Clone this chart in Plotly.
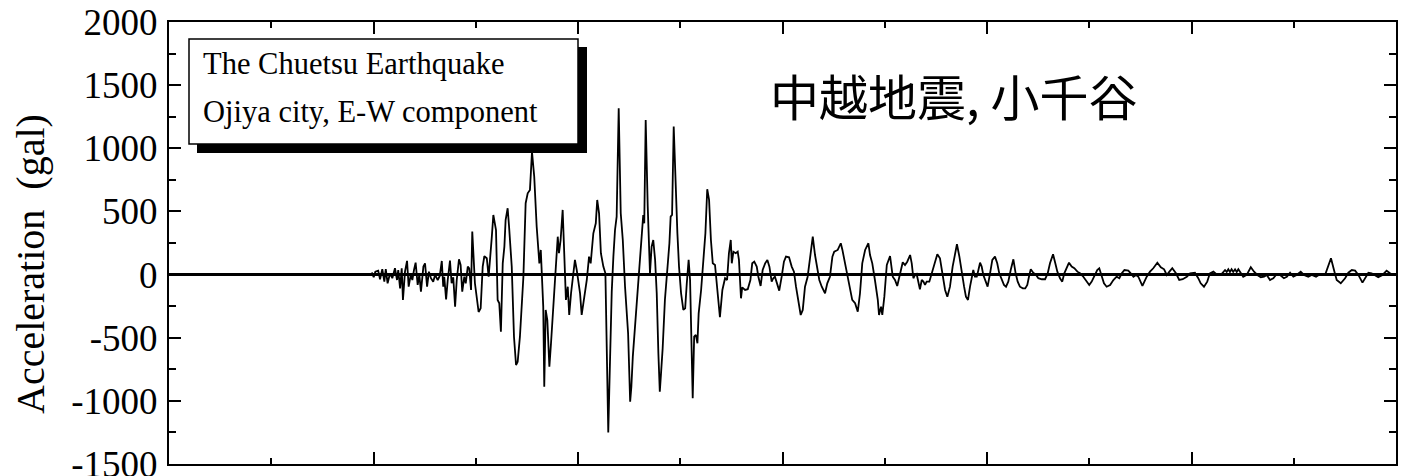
import plotly.graph_objects as go

# Time (s) and acceleration (gal)
time_s = [0.0, 9.83, 9.93, 10.01, 10.09, 10.23, 10.32, 10.43, 10.53, 10.60, 10.69, 10.81, 10.92, 11.05, 11.15, 11.21,
          11.30, 11.38, 11.44, 11.54, 11.64, 11.72, 11.82, 11.90, 11.98, 12.06, 12.16, 12.24, 12.32, 12.44, 12.52,
          12.62, 12.71, 12.81, 12.92, 13.01, 13.14, 13.24, 13.34, 13.41, 13.46, 13.55, 13.63, 13.74, 13.82, 13.90,
          13.99, 14.07, 14.18, 14.26, 14.34, 14.44, 14.51, 14.61, 14.68, 14.77, 14.83, 14.96, 15.14, 15.24, 15.34,
          15.42, 15.54, 15.63, 15.78, 15.86, 15.99, 16.07, 16.15, 16.23, 16.32, 16.40, 16.46, 16.56, 16.63, 16.76,
          16.87, 16.97, 17.05, 17.16, 17.33, 17.44, 17.54, 17.65, 17.75, 17.86, 17.98, 18.06, 18.11, 18.18, 18.23,
          18.30, 18.35, 18.42, 18.50, 18.60, 18.68, 18.79, 18.91, 19.01, 19.07, 19.15, 19.25, 19.32, 19.41, 19.50,
          19.57, 19.66, 19.77, 19.85, 19.94, 20.01, 20.10, 20.18, 20.29, 20.43, 20.54, 20.62, 20.75, 20.87, 20.94,
          21.03, 21.12, 21.24, 21.34, 21.43, 21.48, 21.53, 21.65, 21.73, 21.81, 21.89, 21.99, 22.09, 22.19, 22.30,
          22.38, 22.45, 22.55, 22.61, 22.68, 22.77, 22.90, 23.03, 23.12, 23.19, 23.24, 23.31, 23.41, 23.47, 23.52,
          23.60, 23.68, 23.77, 23.85, 23.93, 24.00, 24.06, 24.14, 24.25, 24.37, 24.47, 24.53, 24.60, 24.68, 24.78,
          24.86, 24.94, 25.04, 25.15, 25.24, 25.32, 25.41, 25.48, 25.54, 25.61, 25.68, 25.76, 25.84, 25.90, 26.02,
          26.13, 26.23, 26.32, 26.41, 26.50, 26.59, 26.70, 26.81, 26.94, 27.06, 27.19, 27.29, 27.38, 27.47, 27.52,
          27.60, 27.71, 27.81, 27.87, 27.97, 28.03, 28.17, 28.30, 28.43, 28.52, 28.62, 28.74, 28.82, 28.93, 29.03,
          29.15, 29.26, 29.36, 29.47, 29.55, 29.63, 29.72, 29.84, 29.96, 30.07, 30.17, 30.32, 30.45, 30.56, 30.66,
          30.78, 30.89, 30.99, 31.10, 31.23, 31.35, 31.48, 31.59, 31.70, 31.80, 31.92, 32.08, 32.19, 32.32, 32.44,
          32.53, 32.70, 32.85, 32.93, 33.06, 33.19, 33.30, 33.41, 33.55, 33.68, 33.79, 33.90, 34.04, 34.20, 34.28,
          34.39, 34.52, 34.66, 34.72, 34.82, 34.88, 34.98, 35.10, 35.26, 35.39, 35.50, 35.61, 35.75, 35.88, 35.99,
          36.10, 36.24, 36.32, 36.40, 36.48, 36.56, 36.64, 36.72, 36.81, 36.89, 36.97, 37.05, 37.18, 37.30, 37.42,
          37.57, 37.70, 37.81, 37.95, 38.06, 38.19, 38.32, 38.44, 38.53, 38.65, 38.76, 38.88, 38.97, 39.07, 39.17,
          39.27, 39.33, 39.41, 39.50, 39.58, 39.66, 39.74, 39.82, 39.94, 40.03, 40.15, 40.26, 40.39, 40.50, 40.60,
          40.72, 40.83, 40.93, 41.04, 41.16, 41.29, 41.40, 41.50, 41.61, 41.75, 41.87, 41.97, 42.07, 42.14, 42.26,
          42.40, 42.51, 42.68, 42.84, 42.97, 43.08, 43.23, 43.34, 43.44, 43.57, 43.68, 43.78, 43.90, 44.01, 44.14,
          44.27, 44.42, 44.55, 44.71, 44.88, 45.00, 45.12, 45.28, 45.39, 45.49, 45.61, 45.72, 45.85, 46.02, 46.18,
          46.34, 46.47, 46.59, 46.72, 46.91, 47.03, 47.16, 47.29, 47.40, 47.60, 47.81, 47.97, 48.13, 48.33, 48.50,
          48.66, 48.79, 48.92, 49.06, 49.24, 49.40, 49.57, 49.77, 49.93, 50.17, 50.33, 50.45, 50.61, 50.77, 50.90,
          51.07, 51.26, 51.48, 51.64, 51.72, 51.80, 51.88, 51.96, 52.04, 52.13, 52.21, 52.29, 52.37, 52.53, 52.70,
          52.90, 53.06, 53.22, 53.39, 53.55, 53.68, 53.84, 54.00, 54.17, 54.33, 54.52, 54.66, 54.82, 54.98, 55.14,
          55.34, 55.50, 55.71, 55.88, 56.09, 56.28, 56.53, 56.82, 56.99, 57.10, 57.30, 57.51, 57.67, 57.84, 58.00,
          58.16, 58.36, 58.52, 58.65, 58.81, 58.97, 59.13, 59.34, 59.54, 59.71, 59.87, 60.0]

accel_gal = [0, 0, 10, -21, 23, 31, -37, 42, -56, 44, -69, 10, -29, 50, -43, 36,
             -109, 50, -201, 23, 108, -96, -3, -43, 36, 94, -82, -3, -135, 63, 89,
             -96, 23, -29, -56, -3, -43, -11, 108, -96, -17, -196, -43, 110, -69, -21,
             -254, -43, 121, 76, -135, -17, -69, 63, 50, -122, 340, -69, -296, -267, 63,
             145, 129, -17, 287, 472, 353, -201, -227, -452, 89, 221, 432, 525, 379, 63,
             -492, -716, -690, -492, -17, 565, 644, 670, 971, 775, 379, 195, 89, 195, -17,
             -254, -888, -280, -360, -729, -544, -254, 116, 300, 169, 274, 512, 195, -201, -96,
             -320, -148, -17, 116, 36, -43, -148, -320, -201, -43, 142, 89, 327, 406, 591,
             485, 169, 63, 10, -729, -1250, -914, -135, 142, 353, 459, 1317, 485, 274, -96,
             -307, -465, -1007, -888, -650, -465, -175, 142, 327, 472, 406, 1224, 538, 221, 10,
             221, 274, 116, -148, -623, -927, -782, -584, -201, 36, 248, 459, 472, 1172, 591,
             327, 63, -148, -280, -267, -69, 116, -43, -518, -980, -492, -478, -544, -307, -122,
             89, 327, 676, 591, 274, 89, 76, -96, -338, -122, -29, -43, 169, 274, 89,
             181, 169, 181, 116, -188, -101, -122, -116, -43, 89, 102, 63, -17, -90, 36,
             89, 116, 63, -56, -29, -17, -69, -127, -17, 102, 142, 137, 63, 23, -96,
             -201, -320, -280, -96, -17, 142, 300, 155, 50, -43, -96, -148, -69, -17, 142,
             181, 195, 248, 195, 89, -17, -96, -201, -227, -294, -148, 89, 195, 248, 155,
             89, -43, -201, -320, -254, -320, -175, 76, 147, -17, -43, -90, -3, 97, 76,
             102, 155, 89, -29, -3, 5, -56, -116, -43, -56, -82, -56, -56, 10, 89,
             161, 129, 10, -122, -175, -96, 63, 181, 240, 142, 10, -96, -175, -201, -96,
             10, 36, -17, -17, 36, 94, 63, -3, -56, -96, 10, 116, 142, 89, 10,
             -43, -82, -96, -56, 36, 121, 10, -56, -96, -109, -109, -82, -3, 42, 15,
             -3, -29, -37, -37, 10, 89, 161, 89, 23, -29, -56, 10, 63, 94, 63,
             50, 23, 10, -17, -56, -82, -56, -3, 36, 50, -17, -69, -96, -82, -43,
             -17, -29, 10, 36, 31, 10, -17, -3, -17, -90, -17, 23, 50, 94, 58,
             42, -3, 23, 50, 10, -43, -37, -17, 10, 15, -29, -69, -96, -56, 10,
             23, -3, 5, 36, 21, 42, 21, 42, 21, 42, 21, 42, 23, -17, -3,
             58, 23, -3, -21, -17, -3, -43, -29, 5, -3, -29, -17, 15, -17, -3,
             23, -3, -17, -3, -17, 2, -3, 129, 23, -43, -69, -29, 15, 36, 31,
             -3, -64, -17, 15, 10, -3, -21, -3, 31, 10, -3, 0]

y_tickvals = [-1500, -1000, -500, 0, 500, 1000, 1500, 2000]
y_ticktext = [str(v) for v in y_tickvals]
legend_lines = ["The Chuetsu Earthquake", "Ojiya city, E-W component"]
title_jp = "中越地震, 小千谷"
y_title = "Acceleration  (gal)"

W, H = 1412, 476
# plot-area edges in window pixels
L, R, T, B = 169, 1396, 22, 464
pw, ph = R - L, B - T


def px(x):
    return (x - L) / pw


def py(y):
    return (B - y) / ph


fig = go.Figure()
fig.add_trace(go.Scatter(x=time_s, y=accel_gal, mode="lines",
                         line=dict(color="black", width=1.8), hoverinfo="skip"))

serif = "Liberation Serif, Times New Roman, serif"
axis_common = dict(showline=True, linecolor="black", linewidth=2, mirror="ticks",
                   ticks="inside", ticklen=12, tickwidth=2, tickcolor="black",
                   showgrid=False, automargin=False)

fig.update_xaxes(range=[0, 60], dtick=10, tick0=0, showticklabels=False, zeroline=False,
                 minor=dict(dtick=5, ticks="inside", ticklen=6, tickwidth=2, tickcolor="black"),
                 **axis_common)
fig.update_yaxes(range=[-1500, 2000], tickvals=y_tickvals, ticktext=y_ticktext,
                 tickfont=dict(family=serif, size=37, color="black"),
                 ticklabeloverflow="allow", ticklabelstandoff=2,
                 zeroline=True, zerolinecolor="black", zerolinewidth=2.5,
                 minor=dict(dtick=250, ticks="inside", ticklen=7, tickwidth=2, tickcolor="black"),
                 **axis_common)

shapes = [
    dict(type="rect", xref="paper", yref="paper", x0=px(197), x1=px(587), y0=py(153), y1=py(47),
         fillcolor="black", line=dict(width=0), layer="above"),
    dict(type="rect", xref="paper", yref="paper", x0=px(189), x1=px(578), y0=py(144), y1=py(39),
         fillcolor="white", line=dict(color="black", width=1.5), layer="above"),
]

annotations = [
    dict(text=legend_lines[0], xref="paper", yref="paper", x=px(201), y=py(64), xanchor="left",
         yanchor="middle", showarrow=False, font=dict(family=serif, size=30.5, color="black")),
    dict(text=legend_lines[1], xref="paper", yref="paper", x=px(201), y=py(112), xanchor="left",
         yanchor="middle", showarrow=False, font=dict(family=serif, size=30.5, color="black")),
    dict(text=title_jp, xref="paper", yref="paper", x=px(954), y=py(95), xanchor="center",
         yanchor="middle", showarrow=False,
         font=dict(family="Noto Sans CJK JP", size=49, color="black")),
    dict(text=y_title, xref="paper", yref="paper", x=px(30), y=py(264), xanchor="center",
         yanchor="middle", textangle=-90, showarrow=False,
         font=dict(family=serif, size=40, color="black")),
]

fig.update_layout(width=W, height=H,
                  margin=dict(l=L, r=W - R, t=T, b=H - B),
                  paper_bgcolor="white", plot_bgcolor="white", showlegend=False,
                  shapes=shapes, annotations=annotations)

# remove the default 8px page margin so the figure sits at the window's corner
fig.write_html("out.html", config={"displayModeBar": False},
               post_script="document.body.style.margin='0';document.body.style.overflow='hidden';")
